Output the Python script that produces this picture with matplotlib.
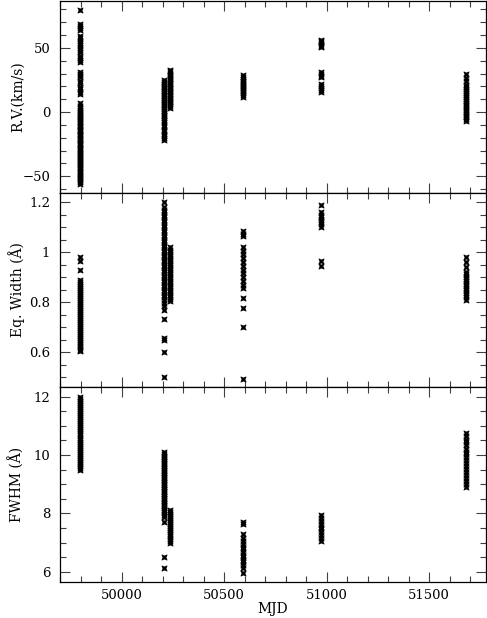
import numpy as np
import matplotlib
matplotlib.use('Agg')
import matplotlib.pyplot as plt
from matplotlib.path import Path
from matplotlib.ticker import MultipleLocator

plt.rcParams['font.family'] = ['DejaVu Serif']

# observing runs (MJD of each group of spectra)
run_mjd = [49796, 50208, 50237, 50594, 50973, 51680]

# radial velocities (km/s) per run
rv_runs = [
    [79.5, 68.5, 66.8, 65.2, 64.0, 59.0, 57.5, 55.5, 54.0, 52.5, 50.0, 48.5, 46.5,
     44.0, 42.0, 40.5, 39.0, 31.5, 30.0, 28.5, 27.0, 24.5, 22.5, 19.5, 18.0, 16.0,
     14.0, 7.0, 4.5, 3.1, 1.8, 0.4, -0.8, -2.1, -3.0, -4.5, -5.7, -6.9, -8.1, -9.0,
     -10.5, -11.7, -12.8, -14.1, -15.0, -16.4, -17.6, -18.7, -20.0, -21.2, -22.2,
     -23.7, -24.8, -26.0, -27.1, -28.4, -29.5, -30.7, -32.0, -33.2, -34.3, -35.6,
     -36.7, -38.1, -39.0, -40.4, -41.5, -42.8, -43.9, -45.1, -46.4, -47.5, -48.7,
     -49.9, -51.2, -52.3, -53.5, -54.7, -56.0],
    [25.0, 23.5, 22.1, 20.7, 19.3, 17.9, 16.4, 15.1, 13.6, 12.2, 10.8, 9.3, 8.0,
     6.5, 5.2, 3.7, 2.4, 1.0, -0.6, -1.9, -3.2, -4.7, -6.5, -8.1, -10.2, -11.6,
     -13.8, -15.1, -16.9, -18.6, -20.3, -22.0],
    [33.0, 31.7, 30.5, 29.1, 28.0, 26.6, 25.4, 24.2, 22.8, 21.6, 20.3, 19.1, 17.7,
     16.5, 15.3, 13.9, 12.7, 11.3, 10.1, 8.8, 7.6, 6.2, 4.9, 3.5],
    [28.5, 27.1, 25.8, 24.5, 23.3, 22.0, 20.8, 19.7, 18.4, 17.2, 16.1, 14.7, 13.4,
     12.0],
    [56.5, 55.4, 54.2, 53.0, 51.7, 50.5, 31.0, 29.6, 28.2, 27.0, 22.0, 20.4, 19.1,
     17.5, 16.0],
    [29.5, 26.5, 24.0, 21.1, 19.6, 18.0, 16.3, 14.6, 13.1, 11.5, 10.1, 8.7, 7.2,
     5.9, 4.4, 3.0, 1.7, 0.2, -1.2, -2.7, -4.0, -5.5, -7.0],
]

# equivalent widths (A) per run
ew_runs = [
    [0.983, 0.965, 0.929, 0.891, 0.883, 0.874, 0.867, 0.858, 0.851, 0.842, 0.835,
     0.826, 0.819, 0.810, 0.803, 0.795, 0.786, 0.779, 0.771, 0.762, 0.755, 0.747,
     0.739, 0.730, 0.723, 0.715, 0.707, 0.698, 0.691, 0.683, 0.675, 0.667, 0.659,
     0.651, 0.643, 0.634, 0.627, 0.619, 0.611, 0.607],
    [1.200, 1.181, 1.171, 1.160, 1.151, 1.140, 1.131, 1.120, 1.111, 1.100, 1.090,
     1.081, 1.070, 1.061, 1.050, 1.040, 1.031, 1.020, 1.010, 1.001, 0.990, 0.980,
     0.971, 0.960, 0.950, 0.941, 0.930, 0.921, 0.910, 0.900, 0.891, 0.880, 0.870,
     0.861, 0.850, 0.840, 0.831, 0.820, 0.810, 0.798, 0.784, 0.768, 0.733, 0.657,
     0.650, 0.600, 0.500],
    [1.020, 1.011, 1.002, 0.993, 0.984, 0.975, 0.966, 0.957, 0.948, 0.939, 0.930,
     0.921, 0.912, 0.903, 0.894, 0.885, 0.876, 0.867, 0.858, 0.849, 0.840, 0.831,
     0.822, 0.813, 0.804],
    [1.086, 1.075, 1.066, 1.020, 1.005, 0.992, 0.976, 0.961, 0.946, 0.930, 0.916,
     0.901, 0.885, 0.871, 0.856, 0.818, 0.778, 0.703, 0.492],
    [1.190, 1.160, 1.150, 1.140, 1.131, 1.122, 1.112, 1.101, 0.965, 0.945],
    [0.980, 0.962, 0.941, 0.921, 0.912, 0.902, 0.893, 0.884, 0.874, 0.866, 0.857,
     0.848, 0.839, 0.830, 0.821, 0.810],
]

# FWHM (A) per run
fwhm_runs = [
    [12.00, 11.93, 11.86, 11.79, 11.72, 11.65, 11.58, 11.51, 11.44, 11.37, 11.30,
     11.23, 11.16, 11.09, 11.02, 10.95, 10.88, 10.81, 10.74, 10.67, 10.60, 10.53,
     10.46, 10.39, 10.32, 10.25, 10.18, 10.11, 10.04, 9.97, 9.90, 9.83, 9.76, 9.69,
     9.62, 9.55, 9.49],
    [10.10, 10.04, 9.98, 9.92, 9.86, 9.80, 9.74, 9.68, 9.62, 9.56, 9.50, 9.44, 9.38,
     9.32, 9.26, 9.20, 9.14, 9.08, 9.02, 8.96, 8.90, 8.84, 8.78, 8.72, 8.66, 8.60,
     8.54, 8.48, 8.42, 8.36, 8.30, 8.24, 8.18, 8.12, 8.06, 7.95, 7.89, 7.69, 6.52,
     6.14],
    [8.12, 8.05, 7.98, 7.91, 7.84, 7.77, 7.70, 7.63, 7.56, 7.49, 7.42, 7.35, 7.28,
     7.21, 7.14, 7.07, 7.00],
    [7.72, 7.62, 7.30, 7.17, 7.04, 6.95, 6.86, 6.77, 6.68, 6.59, 6.50, 6.41, 6.32,
     6.22, 6.12, 5.95],
    [7.95, 7.85, 7.75, 7.65, 7.55, 7.45, 7.35, 7.25, 7.15, 7.07],
    [10.75, 10.64, 10.53, 10.43, 10.33, 10.22, 10.12, 10.02, 9.92, 9.82, 9.72,
     9.62, 9.52, 9.42, 9.32, 9.22, 9.12, 9.02, 8.92],
]

# little square-with-cross symbol
verts = [(-0.55, -0.55), (0.55, -0.55), (0.55, 0.55), (-0.55, 0.55), (-0.55, -0.55),
         (-1, -1), (1, 1), (-1, 1), (1, -1)]
codes = [Path.MOVETO, Path.LINETO, Path.LINETO, Path.LINETO, Path.CLOSEPOLY,
         Path.MOVETO, Path.LINETO, Path.MOVETO, Path.LINETO]
sym = Path(verts, codes)

fig = plt.figure(figsize=(4.87, 6.18), dpi=100)
W, H = 487, 618
left, right = 60 / W, 486 / W
ax_top = fig.add_axes([left, 1 - 193 / H, right - left, 192 / H])
ax_mid = fig.add_axes([left, 1 - 387 / H, right - left, 194 / H])
ax_bot = fig.add_axes([left, 1 - 582 / H, right - left, 195 / H])

panels = [
    (ax_top, rv_runs, 'R.V.(km/s)', (-63, 86.5), 50, 10),
    (ax_mid, ew_runs, 'Eq. Width (Å)', (0.461, 1.237), 0.2, 0.05),
    (ax_bot, fwhm_runs, 'FWHM (Å)', (5.65, 12.33), 2, 0.5),
]

for ax, runs, label, ylim, major, minor in panels:
    for mjd, vals in zip(run_mjd, runs):
        ax.plot(np.full(len(vals), mjd), vals, linestyle='none', marker=sym,
                markersize=4.0, markeredgewidth=0.75, color='black',
                markerfacecolor='none')
    ax.set_xlim(49700, 51778)
    ax.set_ylim(*ylim)
    ax.xaxis.set_major_locator(MultipleLocator(500))
    ax.xaxis.set_minor_locator(MultipleLocator(100))
    ax.yaxis.set_major_locator(MultipleLocator(major))
    ax.yaxis.set_minor_locator(MultipleLocator(minor))
    ax.tick_params(which='both', direction='in', top=True, right=True,
                   labelsize=9.5, width=0.8, color='0.25')
    ax.tick_params(which='major', length=7.5)
    ax.tick_params(which='minor', length=4)
    ax.tick_params(axis='y', pad=7)
    ax.tick_params(axis='x', pad=5)
    ax.set_ylabel(label, fontsize=10)
    ax.yaxis.set_label_coords(-0.082, 0.5)
    for sp in ax.spines.values():
        sp.set_linewidth(0.9)
    if ax is not ax_bot:
        ax.tick_params(labelbottom=False)

ax_mid.yaxis.set_major_formatter(plt.FuncFormatter(lambda v, p: f'{v:g}'))
ax_bot.set_xlabel('MJD', fontsize=10, labelpad=0)

fig.savefig('out.png', dpi=100)
